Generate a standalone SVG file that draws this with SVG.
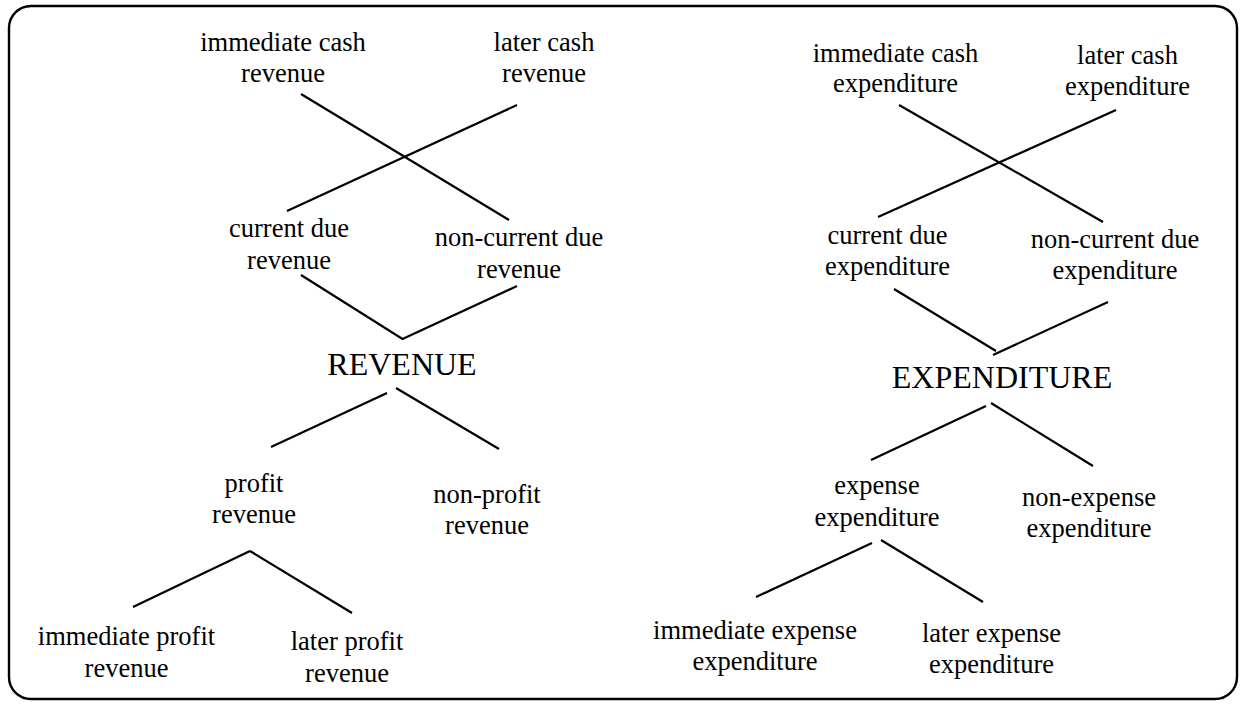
<svg xmlns="http://www.w3.org/2000/svg" width="1241" height="704" viewBox="0 0 1241 704">
<style>
text{font-family:"Liberation Serif","Times New Roman",serif;font-size:26.5px;fill:#000;text-anchor:middle}
.t{font-size:32px}
.c line,.c polyline{stroke:#000;stroke-width:2.2;fill:none}
</style>
<rect x="0" y="0" width="1241" height="704" fill="#fff"/>
<rect id="frame" x="9" y="6" width="1228" height="693" rx="22" ry="22" fill="none" stroke="#000" stroke-width="2.4"/>
<g class="c" id="connectors">
<line x1="301" y1="94" x2="509" y2="220"/>
<line x1="517" y1="105" x2="287" y2="211"/>
<polyline points="301,275 402.5,339 517,286"/>
<line x1="387" y1="393" x2="271" y2="447"/>
<line x1="396" y1="388" x2="499" y2="449"/>
<line x1="250" y1="551" x2="133" y2="607"/>
<line x1="250" y1="551" x2="352" y2="613"/>
<line x1="899" y1="105" x2="1103" y2="222"/>
<line x1="1116" y1="110" x2="878" y2="217"/>
<line x1="894" y1="289" x2="996" y2="351"/>
<line x1="993" y1="355" x2="1108" y2="302"/>
<line x1="986" y1="406" x2="871" y2="460"/>
<line x1="991" y1="403" x2="1093" y2="466"/>
<line x1="872" y1="543" x2="756" y2="597"/>
<line x1="881" y1="540" x2="983" y2="602"/>
</g>
<g id="rev-imm-cash"><text x="283" y="51">immediate cash</text><text x="283" y="82">revenue</text></g>
<g id="rev-later-cash"><text x="544" y="51">later cash</text><text x="544" y="82">revenue</text></g>
<g id="rev-current"><text x="289" y="237">current due</text><text x="289" y="269">revenue</text></g>
<g id="rev-noncurrent"><text x="519" y="246">non-current due</text><text x="519" y="278">revenue</text></g>
<g id="revenue"><text class="t" x="402" y="375">REVENUE</text></g>
<g id="rev-profit"><text x="254" y="492">profit</text><text x="254" y="523">revenue</text></g>
<g id="rev-nonprofit"><text x="487" y="503">non-profit</text><text x="487" y="534">revenue</text></g>
<g id="rev-imm-profit"><text x="126.5" y="645">immediate profit</text><text x="126.5" y="677">revenue</text></g>
<g id="rev-later-profit"><text x="347" y="650">later profit</text><text x="347" y="682">revenue</text></g>
<g id="exp-imm-cash"><text x="895.5" y="62">immediate cash</text><text x="895.5" y="92">expenditure</text></g>
<g id="exp-later-cash"><text x="1127.5" y="64">later cash</text><text x="1127.5" y="95">expenditure</text></g>
<g id="exp-current"><text x="887.5" y="244">current due</text><text x="887.5" y="275">expenditure</text></g>
<g id="exp-noncurrent"><text x="1115" y="248">non-current due</text><text x="1115" y="279">expenditure</text></g>
<g id="expenditure"><text class="t" x="1002" y="388">EXPENDITURE</text></g>
<g id="exp-expense"><text x="877" y="494">expense</text><text x="877" y="526">expenditure</text></g>
<g id="exp-nonexpense"><text x="1089" y="506">non-expense</text><text x="1089" y="537">expenditure</text></g>
<g id="exp-imm-expense"><text x="755" y="639">immediate expense</text><text x="755" y="670">expenditure</text></g>
<g id="exp-later-expense"><text x="991.5" y="642">later expense</text><text x="991.5" y="673">expenditure</text></g>
</svg>
